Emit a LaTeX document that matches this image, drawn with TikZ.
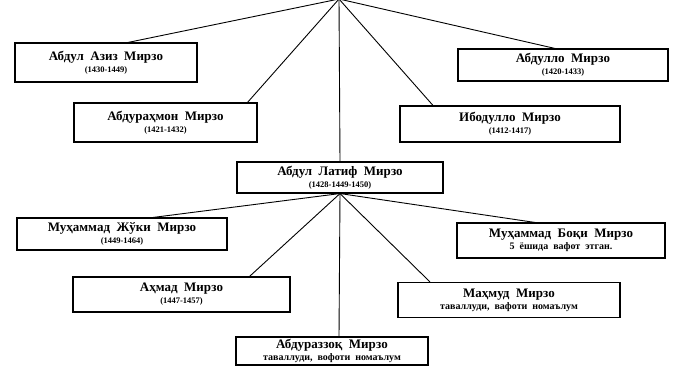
\documentclass[tikz,border=0pt]{standalone}
\usepackage{fontspec}
\setmainfont{Liberation Serif}[WordSpace=2]
\usetikzlibrary{positioning, calc}

\tikzset{
  box/.style={draw, line width=1.1pt, fill=white, align=center, inner sep=2pt,
    font=\fontsize{13}{13}\selectfont\bfseries},
  link/.style={line width=0.9pt}
}
\newcommand{\yrs}[1]{\\[-1pt]{\fontsize{8.5}{8.5}\selectfont #1}}
\newcommand{\note}[1]{\\[-1pt]{\fontsize{10}{10}\selectfont #1}}

\begin{document}
\begin{tikzpicture}[x=1pt,y=-1pt]
\useasboundingbox (0,0) rectangle (675,378);
\coordinate (top) at (339,-1);

% sons
\node[box, minimum width=182pt, minimum height=39pt] (aziz) at (106,62.5)
  {Абдул Азиз Мирзо\yrs{(1430-1449)}};
\node[box, minimum width=183pt, minimum height=39pt] (rahmon) at (165.5,122.5)
  {Абдураҳмон Мирзо\yrs{(1421-1432)}};
\node[box, minimum width=210pt, minimum height=32pt] (abdullo) at (563,65)
  {Абдулло Мирзо\yrs{(1420-1433)}};
\node[box, minimum width=220pt, minimum height=36pt] (ibodullo) at (510,124)
  {Ибодулло Мирзо\yrs{(1412-1417)}};
\node[box, minimum width=206pt, minimum height=31pt] (latif) at (340,177.5)
  {Абдул Латиф Мирзо\yrs{(1428-1449-1450)}};

% grandsons
\node[box, minimum width=210pt, minimum height=32pt] (juki) at (122,234)
  {Муҳаммад Жўки Мирзо\yrs{(1449-1464)}};
\node[box, minimum width=208pt, minimum height=35pt] (boqi) at (561,240.5)
  {Муҳаммад Боқи Мирзо\note{5 ёшида вафот этган.}};
\node[box, minimum width=217pt, minimum height=35pt] (ahmad) at (181.5,294.5)
  {Аҳмад Мирзо\yrs{(1447-1457)}};
\node[box, minimum width=222pt, minimum height=35pt] (mahmud) at (509,300)
  {Маҳмуд Мирзо\note{таваллуди, вафоти номаълум}};
\node[box, minimum width=192pt, minimum height=28pt] (razzoq) at (332,351)
  {Абдураззоқ Мирзо\note{таваллуди, вофоти номаълум}};

\draw[link] (top) -- ([xshift=22pt]aziz.north);
\draw[link] (top) -- ([xshift=82pt]rahmon.north);
\draw[link] (top) -- ([xshift=-8pt]abdullo.north);
\draw[link] (top) -- ([xshift=-77pt]ibodullo.north);
\draw[link] (top) -- (latif.north);

\draw[link] (latif.south) -- ([xshift=31pt]juki.north);
\draw[link] (latif.south) -- ([xshift=68pt]ahmad.north);
\draw[link] (latif.south) -- ([xshift=-26pt]boqi.north);
\draw[link] (latif.south) -- ([xshift=-79pt]mahmud.north);
\draw[link] (latif.south) -- ([xshift=7pt]razzoq.north);
\end{tikzpicture}
\end{document}
